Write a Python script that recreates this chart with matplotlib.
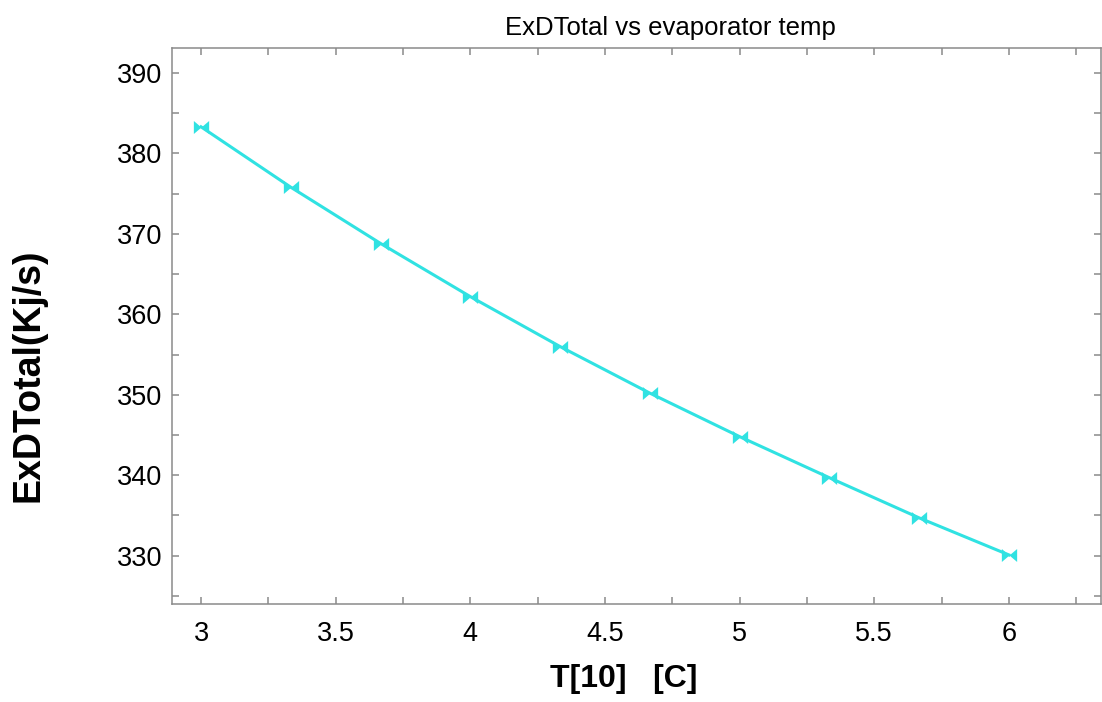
import matplotlib
matplotlib.use("Agg")
from matplotlib import pyplot as plt
from matplotlib.path import Path
from matplotlib.ticker import MultipleLocator

plt.rcParams['font.family'] = ['Liberation Sans', 'DejaVu Sans']

# evaporator temperature T[10] and total exergy destruction
t_evap = [3.0, 3.333, 3.667, 4.0, 4.333, 4.667, 5.0, 5.333, 5.667, 6.0]
exd_total = [383.3, 375.8, 368.8, 362.2, 356.0, 350.2, 344.8, 339.7, 334.7, 330.1]

# bowtie marker: two triangles meeting in the middle
bowtie = Path([(-1, -0.85), (0, 0), (-1, 0.85), (-1, -0.85),
               (1, -0.85), (0, 0), (1, 0.85), (1, -0.85)],
              [Path.MOVETO, Path.LINETO, Path.LINETO, Path.CLOSEPOLY,
               Path.MOVETO, Path.LINETO, Path.LINETO, Path.CLOSEPOLY])

fig = plt.figure(figsize=(11.02, 7.02), dpi=100)
ax = fig.add_axes([172 / 1102, 1 - 604 / 702, (1101 - 172) / 1102, (604 - 48) / 702])

ax.plot(t_evap, exd_total, color='#30e2e2', linewidth=2.2,
        marker=bowtie, markersize=11, markeredgewidth=0)

ax.set_xlim(2.892, 6.342)
ax.set_ylim(324.0, 393.1)
ax.xaxis.set_major_locator(MultipleLocator(0.5))
ax.xaxis.set_minor_locator(MultipleLocator(0.25))
ax.yaxis.set_major_locator(MultipleLocator(10))
ax.yaxis.set_minor_locator(MultipleLocator(5))
ax.xaxis.set_major_formatter(plt.FuncFormatter(lambda v, p: f"{v:g}"))

for s in ax.spines.values():
    s.set_color('#8a8a8a')
    s.set_linewidth(1.1)
ax.tick_params(which='both', direction='in', top=True, right=True,
               color='#8a8a8a', width=1.1, length=5, labelsize=19.5)
ax.tick_params(axis='y', pad=7)
ax.tick_params(axis='x', pad=12)

ax.set_title('ExDTotal vs evaporator temp', fontsize=18.5, x=0.536, pad=9)
ax.set_xlabel('T[10]   [C]', fontsize=23, fontweight='bold', va='center')
ax.xaxis.set_label_coords(0.4865, -0.135)
ax.set_ylabel('ExDTotal(Kj/s)', fontsize=27, fontweight='bold', va='center')
ax.yaxis.set_label_coords(-0.155, 0.412)

fig.savefig('out.png', dpi=100)
